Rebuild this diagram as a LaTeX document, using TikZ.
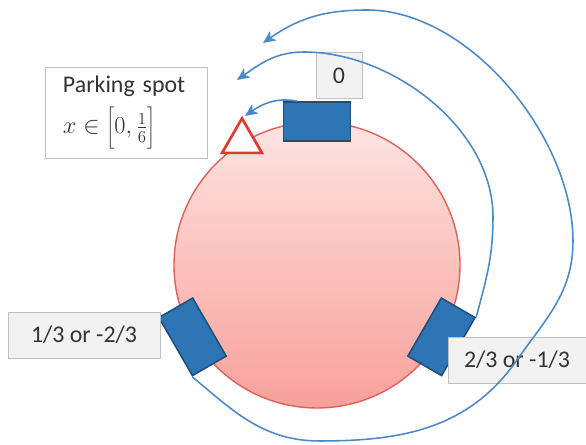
\documentclass[tikz,border=0pt]{standalone}
\usepackage{fontspec}
\setmainfont{Carlito}
\usetikzlibrary{arrows.meta,shapes.geometric}

\definecolor{carblue}{HTML}{2E75B6}
\definecolor{caredge}{HTML}{1F4E79}
\definecolor{pathblue}{HTML}{4A89C5}
\definecolor{diskedge}{HTML}{E0605A}
\definecolor{disktop}{HTML}{FDE4E1}
\definecolor{diskbottom}{HTML}{F8A09A}
\definecolor{spotred}{HTML}{E0392F}
\definecolor{tagfill}{HTML}{F2F2F2}
\definecolor{tagedge}{HTML}{C0C0C0}

\begin{document}
\begin{tikzpicture}[line width=0.6pt,
  car/.style={draw=caredge, fill=carblue, line width=1.1pt, minimum width=1.675cm, minimum height=0.975cm, inner sep=0pt},
  tag/.style={draw=tagedge, fill=tagfill, text=black!80, font=\fontsize{17}{20}\selectfont, minimum height=1.150cm, inner sep=0pt},
  move/.style={draw=pathblue, line width=1.1pt, -{Stealth[length=9pt,width=8pt,inset=2.5pt]}}]
  \useasboundingbox (0,0) rectangle (14.650,11.125);
  % track and cars
  \node[circle, draw=diskedge, line width=1pt, top color=disktop, bottom color=diskbottom, minimum size=7.150cm, inner sep=0pt] (disk) at (7.925,4.500) {};
  \node[car] (car0) at (disk.90) {};
  \node[car, rotate=-60] (carA) at (disk.210) {};
  \node[car, rotate=60] (carB) at (disk.330) {};
  \node[regular polygon, regular polygon sides=3, draw=spotred, fill=white, line width=1.9pt, minimum size=1.150cm, inner sep=0pt] (spot) at (6.050,7.590) {};
  % labels
  \node[tag, minimum width=1.150cm] (tag0) at (8.475,9.238) {0};
  \node[tag, minimum width=3.800cm] (tagA) at (2.100,2.750) {1/3 or -2/3};
  \node[tag, minimum width=3.450cm] (tagB) at (12.925,2.125) {2/3 or -1/3};
  \node[draw=tagedge, fill=white, text=black!80, font=\fontsize{17}{20}\selectfont, align=left, text width=3.150cm, inner xsep=0.450cm, minimum height=2.275cm] (park) at (3.150,8.313) {Parking spot\\[6pt]$x\in\left[\vcenter{\hbox{\rule{0pt}{27pt}}}0,\frac{1}{6}\right]$};
  % moves to the spot
  \coordinate (tip0) at (6.125,8.225);
  \coordinate (tipB) at (5.925,9.125);
  \coordinate (tipA) at (6.575,10.050);
  \draw[move] ([xshift=0.350cm]car0.north west) to[out=170,in=35] (tip0);
  \draw[move] (carB.south east) to[out=75,in=-90] (12.325,5.700)
    to[out=90,in=0,looseness=0.9] (7.600,9.825) to[out=180,in=35] (tipB);
  \draw[move] (carA.south east) to[out=-40,in=180] (8.000,0.100) to[out=0,in=-125] (12.925,2.125)
    to[out=55,in=-90] (14.325,5.100) to[out=90,in=0,looseness=0.85] (9.175,10.875)
    to[out=180,in=35] (tipA);
\end{tikzpicture}
\end{document}
